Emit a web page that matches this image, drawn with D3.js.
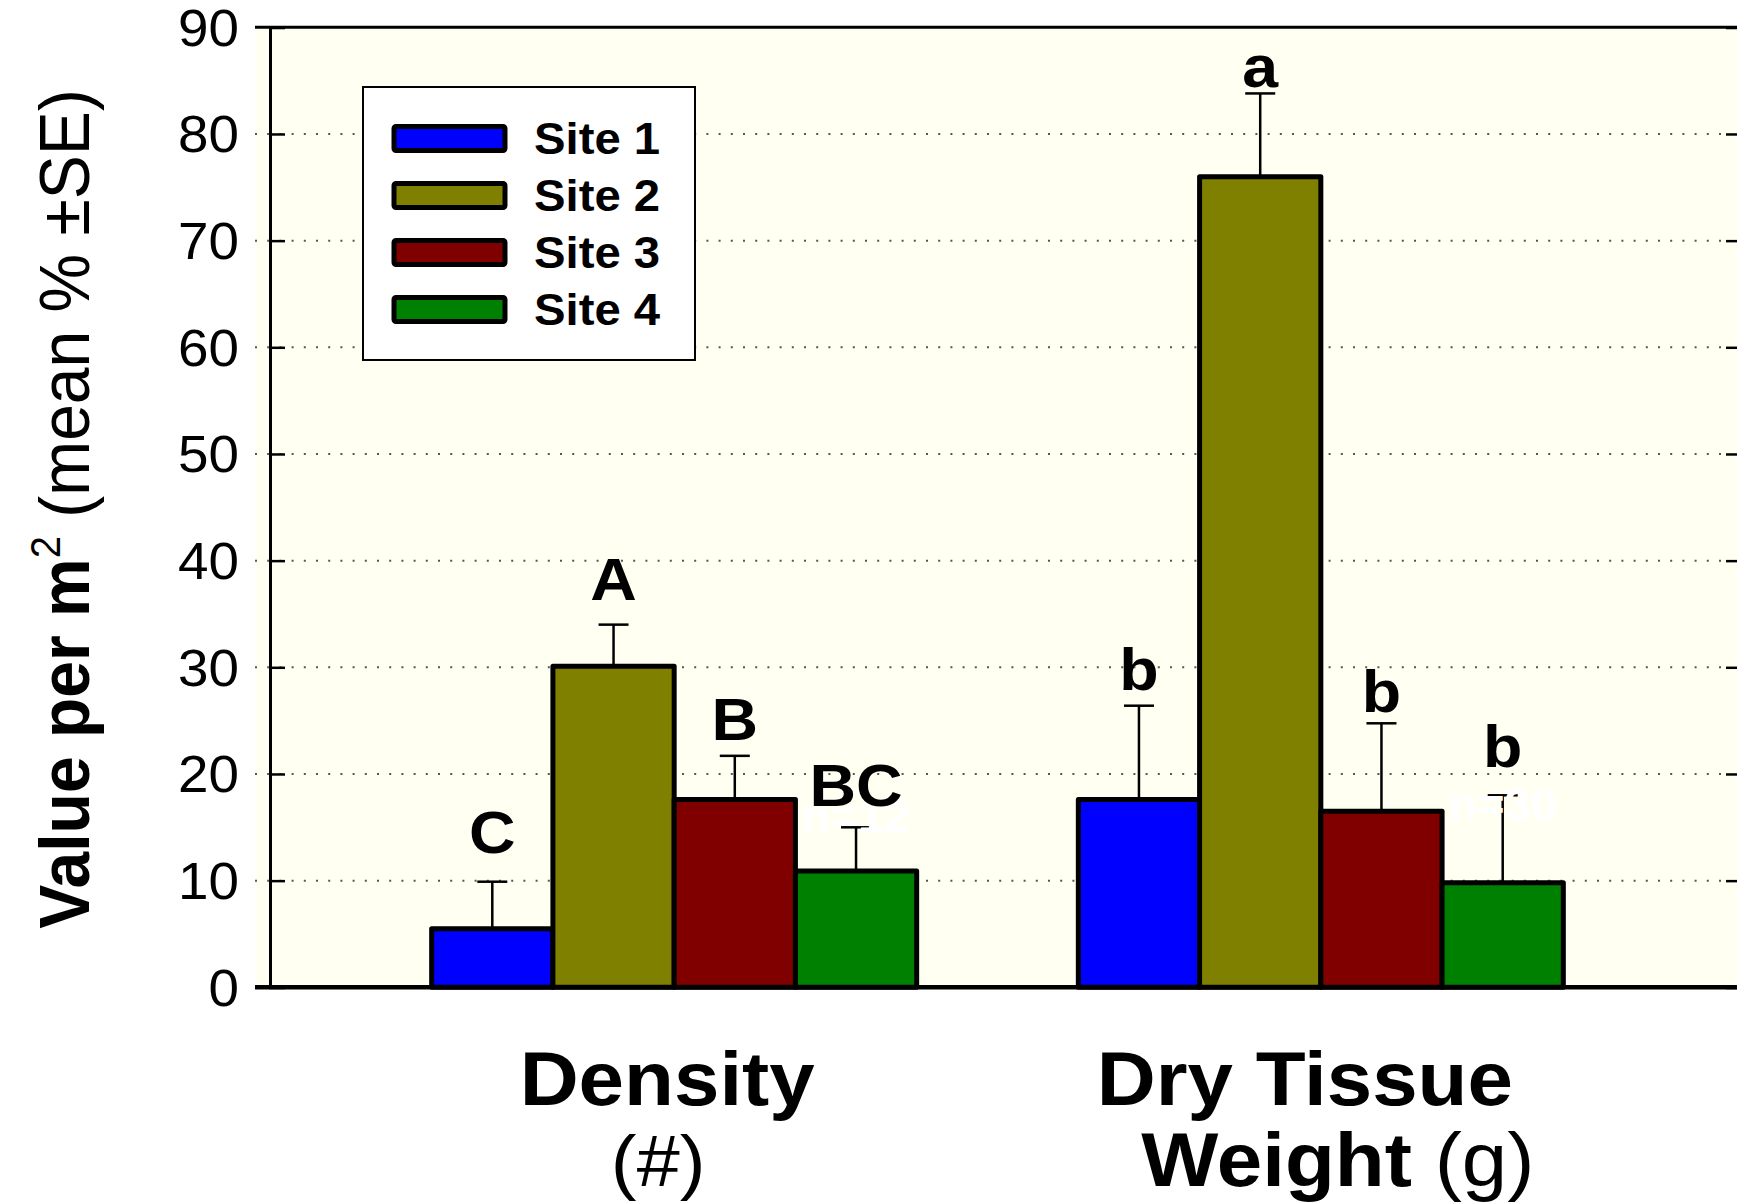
<!DOCTYPE html>
<html>
<head>
<meta charset="utf-8">
<script src="https://cdn.jsdelivr.net/npm/d3@7"></script>
<style>
  html, body { margin: 0; padding: 0; background: #ffffff; }
  svg { display: block; }
  text { font-family: "Liberation Sans", Arial, Helvetica, sans-serif; }
</style>
</head>
<body>
<svg id="chart" width="1737" height="1202"></svg>
<script>
// ---- data ----
const categories = ["Density", "Dry Tissue Weight"];
const sites = ["Site 1", "Site 2", "Site 3", "Site 4"];
const siteColors = ["#0000ff", "#808000", "#800000", "#008000"];
const densityMeans = [5.5, 30.1, 17.6, 10.9];
const densitySE = [4.4, 3.9, 4.1, 4.1];
const dryMeans = [17.6, 76.0, 16.5, 9.8];
const drySE = [8.8, 7.8, 8.25, 8.2];
const densityLetters = ["C", "A", "B", "BC"];
const dryLetters = ["b", "a", "b", "b"];
const densityLetterAt = [12.6, 36.3, 23.2, 17.0];
const dryLetterAt = [27.9, 84.4, 25.8, 20.7];
const nLabels = ["n=12", "n=30"];
const nLabelAt = [14.6, 15.7];
const yTicks = [0, 10, 20, 30, 40, 50, 60, 70, 80, 90];
const gridValues = [10, 20, 30, 40, 50, 60, 70, 80];

const groups = [
  { cat: categories[0], means: densityMeans, se: densitySE, letters: densityLetters, letterAt: densityLetterAt, n: nLabels[0], nAt: nLabelAt[0] },
  { cat: categories[1], means: dryMeans, se: drySE, letters: dryLetters, letterAt: dryLetterAt, n: nLabels[1], nAt: nLabelAt[1] }
];

// ---- layout ----
const SX = 1.075; // horizontal text stretch of the original
const svg = d3.select("#chart");
const plotLeft = 270, plotRight = 1741, bgLeft = 255;
const y = d3.scaleLinear().domain([0, 90]).range([987.3, 27.3]);
const x0 = d3.scaleBand().domain(categories).range([270, 1725]).paddingInner(0.25).paddingOuter(0.25);
const x1 = d3.scaleBand().domain(sites).range([0, x0.bandwidth()]);
const color = d3.scaleOrdinal().domain(sites).range(siteColors);

function stext(parent, x, yy, str, opts = {}) {
  const g = parent.append("g").attr("transform", `translate(${x},${yy}) scale(${SX},1)` + (opts.rotate ? ` rotate(${opts.rotate})` : ""));
  const t = g.append("text")
    .attr("text-anchor", opts.anchor || "middle")
    .attr("font-size", opts.size || 40)
    .attr("font-weight", opts.weight || "normal")
    .attr("fill", opts.fill || "#000");
  if (opts.dy) t.attr("dy", opts.dy);
  if (str !== null) t.text(str);
  return t;
}

// background
svg.append("rect").attr("x", bgLeft).attr("y", y(90)).attr("width", 1737 - bgLeft).attr("height", y(0) - y(90)).attr("fill", "#fffff2");

// grid lines (dotted)
svg.append("g").selectAll("line").data(gridValues).join("line")
  .attr("x1", bgLeft).attr("x2", 1725)
  .attr("y1", d => y(d)).attr("y2", d => y(d))
  .attr("stroke", "#555").attr("stroke-width", 2)
  .attr("stroke-dasharray", "2 10.2");

// frame: top line, left axis, right axis
svg.append("line").attr("x1", bgLeft).attr("x2", 1737).attr("y1", y(90)).attr("y2", y(90)).attr("stroke", "#000").attr("stroke-width", 3);
const yAxisL = d3.axisRight(y).tickValues(yTicks).tickSize(15).tickFormat("");
const gL = svg.append("g").attr("transform", `translate(${plotLeft},0)`).call(yAxisL);
gL.select(".domain").attr("stroke-width", 3);
gL.selectAll(".tick line").attr("stroke-width", 2.5);
const yAxisR = d3.axisLeft(y).tickValues(yTicks).tickSize(15).tickFormat("");
const gR = svg.append("g").attr("transform", `translate(${plotRight},0)`).call(yAxisR);
gR.select(".domain").attr("stroke-width", 3);
gR.selectAll(".tick line").attr("stroke-width", 2.5);

// tick labels
const tl = svg.append("g");
yTicks.forEach(v => {
  stext(tl, 239, y(v), String(v), { anchor: "end", size: 51, dy: "0.36em" });
});

// bars
const gg = svg.append("g").selectAll("g.grp").data(groups).join("g")
  .attr("class", "grp")
  .attr("transform", d => `translate(${x0(d.cat)},0)`);

gg.each(function(gd) {
  const g = d3.select(this);
  const items = sites.map((s, i) => ({ site: s, mean: gd.means[i], se: gd.se[i], letter: gd.letters[i], at: gd.letterAt[i] }));
  // error bars (behind bars)
  g.selectAll("line.err").data(items).join("line").attr("class", "err")
    .attr("x1", d => x1(d.site) + x1.bandwidth() / 2).attr("x2", d => x1(d.site) + x1.bandwidth() / 2)
    .attr("y1", d => y(d.mean)).attr("y2", d => y(d.mean + d.se))
    .attr("stroke", "#000").attr("stroke-width", 2.5);
  g.selectAll("line.cap").data(items).join("line").attr("class", "cap")
    .attr("x1", d => x1(d.site) + x1.bandwidth() / 2 - 15).attr("x2", d => x1(d.site) + x1.bandwidth() / 2 + 15)
    .attr("y1", d => y(d.mean + d.se)).attr("y2", d => y(d.mean + d.se))
    .attr("stroke", "#000").attr("stroke-width", 2.5);
  g.selectAll("rect.bar").data(items).join("rect").attr("class", "bar")
    .attr("x", d => x1(d.site)).attr("width", x1.bandwidth())
    .attr("y", d => y(d.mean)).attr("height", d => y(0) - y(d.mean))
    .attr("fill", d => color(d.site)).attr("stroke", "#000").attr("stroke-width", 5)
    .attr("stroke-linejoin", "round");
  // faint white n labels over Site 4
  stext(g, x1(sites[3]) + x1.bandwidth() / 2, y(gd.nAt), gd.n, { size: 44, weight: "bold", fill: "#ffffff" });
  // significance letters
  items.forEach(d => {
    stext(g, x1(d.site) + x1.bandwidth() / 2, y(d.at), d.letter, { size: 60, weight: "bold" });
  });
});

// x axis line
svg.append("line").attr("x1", bgLeft).attr("x2", 1737).attr("y1", y(0)).attr("y2", y(0)).attr("stroke", "#000").attr("stroke-width", 4.5);

// x category labels
const xl = svg.append("g");
const dC = x0(categories[0]) + x0.bandwidth() / 2;
const wC = x0(categories[1]) + x0.bandwidth() / 2;
stext(xl, dC - 7, 1105, "Density", { size: 76, weight: "bold" });
stext(xl, dC - 16, 1186, "(#)", { size: 72 });
stext(xl, wC - 16, 1105, "Dry Tissue", { size: 76, weight: "bold" });
const t2 = stext(xl, wC + 17, 1186, null, { size: 76 });
t2.append("tspan").attr("font-weight", "bold").text("Weight");
t2.append("tspan").text(" (g)");

// y title
const yt = stext(svg, 89, 509, null, { size: 66, rotate: -90 });
yt.append("tspan").attr("font-weight", "bold").text("Value per m");
yt.append("tspan").attr("font-size", 40).attr("dy", -27).text("2");
yt.append("tspan").attr("dy", 27).text(" (mean % \u00B1SE)");

// legend
const lg = svg.append("g");
lg.append("rect").attr("x", 363).attr("y", 87).attr("width", 332).attr("height", 273)
  .attr("fill", "#ffffff").attr("stroke", "#000").attr("stroke-width", 2);
sites.forEach((s, i) => {
  const cy = 138.5 + i * 57;
  lg.append("rect").attr("x", 394).attr("y", cy - 12).attr("width", 111).attr("height", 24)
    .attr("rx", 2).attr("fill", color(s)).attr("stroke", "#000").attr("stroke-width", 5);
  stext(lg, 534, cy, s, { anchor: "start", size: 44, weight: "bold", dy: "0.36em" });
});
</script>
</body>
</html>
